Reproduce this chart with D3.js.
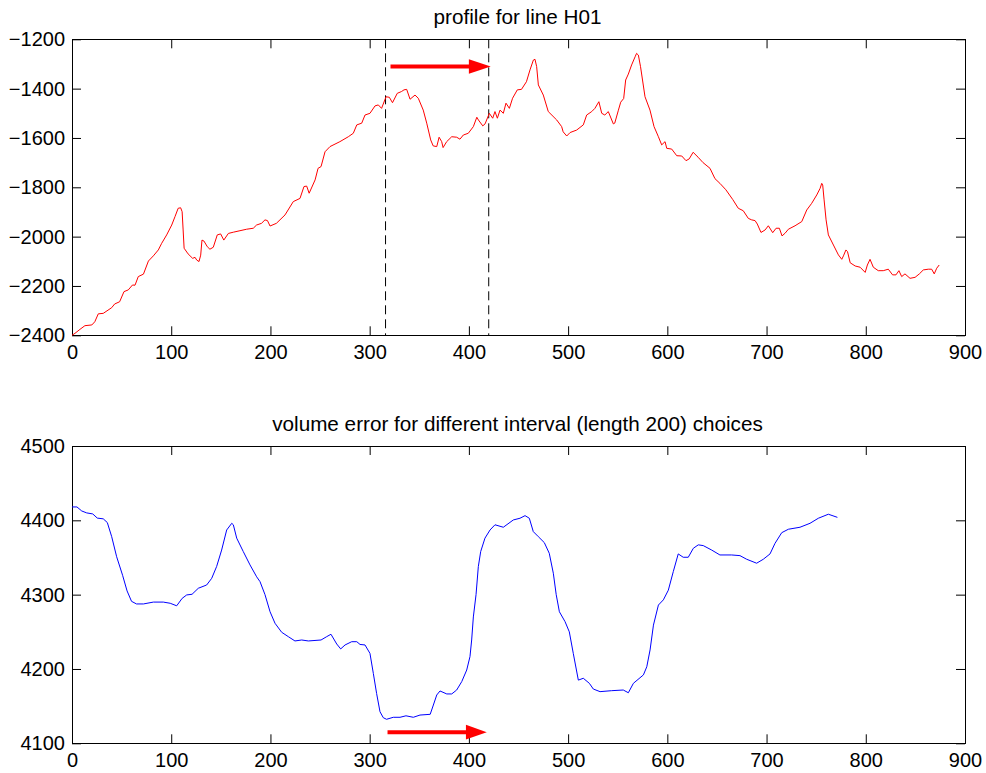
<!DOCTYPE html>
<html>
<head>
<meta charset="utf-8">
<script src="https://cdn.jsdelivr.net/npm/d3@7"></script>
<style>
  html, body { margin: 0; padding: 0; background: #fff; }
  svg { display: block; }
  text { font-family: "Liberation Sans", Arial, sans-serif; fill: #000; }
</style>
</head>
<body>
<svg id="chart" width="986" height="773"></svg>
<script>
// Profile along line H01 (distance vs. elevation)
const profileX = [0,3,8,13,20,23,26.5,31.5,40,43,48,52.4,56.7,61,63.5,66.8,72,77,82,87,90.4,95.4,100.5,103.8,107,109.5,111,112,113,117,121.6,124,125.7,128,129.7,131,133,136.4,139,142.4,146.4,149.8,153,157.6,162.6,169.3,176,182.7,186,191,194.5,197,199.6,206,214.7,223,229.8,233.8,236.5,239,245,248,251,255,260,270,278.5,283.5,287,292,295.3,300.3,305.4,308.7,312,316.5,319.8,323,327.8,332,334.6,337.3,340.7,345.7,349,354,357.5,361.5,364,367.6,370,372.6,374,377.6,382.7,387.7,391,394.4,399.4,404.5,408,409.6,414,416.3,420.6,424,426.3,428.7,431.4,434.7,437.4,440.8,444,448.8,453,458,461.6,465,466.6,468.3,470,475,480,488.5,493.5,495,498.6,502,508.6,515.3,518.7,523.8,527,531,533.9,537,540.5,545.6,547,550.5,553,556,558,560.7,564,567.5,569,570.8,573,577.5,582.5,586.6,591,594.3,597.7,599.4,604.4,609.5,614.5,618.8,622,626,631,636,643,648,653,659,666,671.5,676.5,681.6,685,688.4,690.7,694.4,698.5,701.8,706.2,709.6,712.9,715.6,718.7,722,728.7,735.5,740.5,745.5,750.6,754,755.6,756.6,758,760,762.3,767.4,772.4,775.8,777.5,780,781.6,784.3,789.3,794.3,799.4,801.6,804.3,807.6,812.6,817.6,822.7,827,830.4,833.4,836.2,839.5,844.6,849.7,854,858,863,866.4,869,871.5,874];
const profileY = [-2400,-2392,-2376,-2361,-2358,-2345,-2313,-2311,-2288,-2273,-2264,-2223,-2216,-2196,-2197,-2162,-2152,-2099,-2078,-2054,-2027,-1993,-1953,-1919,-1885,-1883,-1899,-1973,-2047,-2070,-2088,-2084,-2095,-2101,-2075,-2014,-2018,-2041,-2051,-2043,-1993,-1989,-2014,-1987,-1982,-1976,-1970,-1966,-1953,-1946,-1932,-1935,-1957,-1946,-1912,-1858,-1845,-1797,-1795,-1824,-1770,-1723,-1716,-1656,-1635,-1615,-1595,-1581,-1547,-1540,-1507,-1500,-1470,-1466,-1480,-1433,-1435,-1457,-1419,-1412,-1405,-1403,-1443,-1426,-1439,-1487,-1540,-1608,-1632,-1635,-1597,-1615,-1639,-1615,-1595,-1597,-1605,-1588,-1581,-1554,-1516,-1527,-1551,-1543,-1500,-1520,-1493,-1520,-1487,-1500,-1459,-1480,-1439,-1405,-1403,-1372,-1324,-1284,-1281,-1311,-1385,-1426,-1493,-1527,-1554,-1575,-1592,-1578,-1568,-1547,-1507,-1493,-1480,-1453,-1500,-1507,-1493,-1543,-1540,-1490,-1455,-1440,-1365,-1341,-1304,-1271,-1257,-1264,-1311,-1433,-1487,-1554,-1595,-1628,-1615,-1642,-1645,-1672,-1673,-1692,-1685,-1658,-1678,-1700,-1723,-1765,-1784,-1810,-1850,-1885,-1895,-1926,-1932,-1935,-1949,-1983,-1973,-1956,-1984,-1966,-1966,-1997,-1986,-1970,-1956,-1939,-1892,-1865,-1831,-1804,-1784,-1791,-1851,-1932,-1993,-2034,-2074,-2092,-2078,-2054,-2061,-2106,-2119,-2124,-2145,-2115,-2092,-2124,-2138,-2138,-2132,-2155,-2155,-2138,-2162,-2151,-2169,-2165,-2151,-2135,-2132,-2132,-2151,-2128,-2115];

// Volume error by interval start position
const errorX = [0,5,9.8,14.8,20.9,25.5,31.5,35.6,40,45,51,55.5,60,65,72,82,92,99,105.5,111,115.6,121,127.3,135.7,140.8,145.8,150.8,155.9,161,162.6,166,172.6,179.4,186.1,189.5,194.5,199.6,204.6,211.3,218,224.7,231.5,238.2,251,256.7,261,266.8,270.8,275.2,281.9,287,290.3,295.3,300.3,303.7,307,310.4,313.7,317,323.8,330.6,336.6,344,350.7,361,364.2,367.6,370.9,377.7,382.7,387.7,392.8,397.8,401.1,402.8,404.5,407.2,409.5,411.9,416.2,421.3,426.3,434.7,444.8,451.5,456.6,460.9,464.9,470,476,481,485.1,488,491.2,496.9,501.2,505.2,510.3,515.3,521.4,525.4,532.2,543.9,555.6,560.7,565.8,575.9,579.3,582.6,586,591,596,601,606,611,616,621.1,626.2,631.2,636.2,644.7,653,664.8,673.2,680,690,696.7,703.5,708.5,715.3,722,733.7,743.8,752.2,762.3,771.4];
const errorY = [4418,4418,4412.6,4410,4408.6,4403,4402,4397,4378,4351,4326,4305,4291,4287.5,4287.5,4290,4290,4288.4,4285,4295,4299.6,4300.5,4308.6,4313,4322,4338,4360,4387,4396,4394,4376,4358,4340,4324,4317.5,4300,4277,4261.5,4249.4,4243.5,4237.7,4239,4237.7,4239,4243.5,4246.7,4233.6,4227,4232.3,4236.7,4236.7,4233,4232.3,4221,4194,4167,4142.5,4134.5,4132.3,4135,4135,4137,4135,4138,4139,4151.5,4165,4170.4,4166.4,4166.4,4171.7,4183,4198.6,4216.6,4239,4270,4300,4337.7,4358,4376,4387,4394,4390.7,4400.5,4402.8,4406.3,4402.8,4384.8,4378,4370,4355.7,4328.8,4300,4277,4263.7,4250,4221,4185,4187.5,4180.7,4173,4169.5,4170.8,4171.7,4168,4180.7,4192,4203,4225.6,4259,4286,4293,4306,4331,4354.8,4350.3,4350.3,4362.4,4367,4366,4360,4353.4,4353.4,4352.5,4347.6,4342.3,4347.6,4354.8,4369,4383.4,4388,4390.7,4396,4402.8,4408.2,4404];

// Axis ticks
const xTicks = [0,100,200,300,400,500,600,700,800,900];
const profileTicks = [-2400,-2200,-2000,-1800,-1600,-1400,-1200];
const errorTicks = [4100,4200,4300,4400,4500];

// Interval bounds and the shift arrows
const intervalBounds = [316, 420];
const profileArrow = { x0: 321, x1: 422, headBase: 400, y: -1310 };
const errorArrow = { x0: 318, x1: 418, headBase: 397, y: 4115 };

const titles = ["profile for line H01", "volume error for different interval (length 200) choices"];

const svg = d3.select("#chart");
const left = 72, right = 965;
const FS = 20;      // tick labels
const TITLE_FS = 20.7;

function panel(cfg) {
  const x = d3.scaleLinear().domain([0, 900]).range([left, right]);
  const y = d3.scaleLinear().domain(cfg.yDomain).range([cfg.bottom, cfg.top]);
  const g = svg.append("g");

  const styleAxis = sel => {
    sel.selectAll("path.domain").remove();
    sel.selectAll(".tick line").attr("stroke", "#000").attr("stroke-width", 1);
    sel.selectAll(".tick text").attr("font-size", FS)
      .attr("font-family", '"Liberation Sans", Arial, sans-serif').attr("fill", "#000");
  };

  g.append("g").attr("transform", `translate(0,${cfg.bottom})`)
    .call(d3.axisBottom(x).tickValues(xTicks).tickFormat(d3.format("d")).tickSizeInner(-9).tickSizeOuter(0).tickPadding(10))
    .call(styleAxis);
  g.append("g").attr("transform", `translate(0,${cfg.top})`)
    .call(d3.axisTop(x).tickValues(xTicks).tickFormat("").tickSizeInner(-9).tickSizeOuter(0))
    .call(styleAxis);
  g.append("g").attr("transform", `translate(${left},0)`)
    .call(d3.axisLeft(y).tickValues(cfg.yTicks).tickFormat(d3.format("d")).tickSizeInner(-9).tickSizeOuter(0).tickPadding(7))
    .call(styleAxis);
  g.append("g").attr("transform", `translate(${right},0)`)
    .call(d3.axisRight(y).tickValues(cfg.yTicks).tickFormat("").tickSizeInner(-9).tickSizeOuter(0))
    .call(styleAxis);

  g.append("rect")
    .attr("x", left).attr("y", cfg.top)
    .attr("width", right - left).attr("height", cfg.bottom - cfg.top)
    .attr("fill", "none").attr("stroke", "#000").attr("stroke-width", 1)
    .attr("shape-rendering", "crispEdges");

  g.append("text")
    .attr("x", (left + right) / 2 - 1).attr("y", cfg.titleY)
    .attr("text-anchor", "middle").attr("font-size", TITLE_FS)
    .text(cfg.title);

  return { g, x, y };
}

// Upper panel: elevation profile
const p1 = panel({ yDomain: [-2400, -1200], top: 39.3, bottom: 335.3, yTicks: profileTicks, title: titles[0], titleY: 24 });

p1.g.selectAll("line.bound").data(intervalBounds).join("line")
  .attr("class", "bound")
  .attr("x1", d => p1.x(d)).attr("x2", d => p1.x(d))
  .attr("y1", p1.y(-1200)).attr("y2", p1.y(-2400))
  .attr("stroke", "#000").attr("stroke-width", 1)
  .attr("stroke-dasharray", "9,5");

p1.g.append("path")
  .datum(d3.zip(profileX, profileY))
  .attr("fill", "none").attr("stroke", "#ff0000").attr("stroke-width", 1)
  .attr("d", d3.line().x(d => p1.x(d[0])).y(d => p1.y(d[1])));

// Lower panel: volume error
const p2 = panel({ yDomain: [4100, 4500], top: 446, bottom: 743.3, yTicks: errorTicks, title: titles[1], titleY: 430.5 });

p2.g.append("path")
  .datum(d3.zip(errorX, errorY))
  .attr("fill", "none").attr("stroke", "#0000ff").attr("stroke-width", 1)
  .attr("d", d3.line().x(d => p2.x(d[0])).y(d => p2.y(d[1])));

function arrow(p, a) {
  const yy = p.y(a.y);
  p.g.append("line")
    .attr("x1", p.x(a.x0)).attr("x2", p.x(a.headBase) + 1)
    .attr("y1", yy).attr("y2", yy)
    .attr("stroke", "#ff0000").attr("stroke-width", 4);
  p.g.append("path")
    .attr("d", `M${p.x(a.headBase)},${yy - 7.3}L${p.x(a.x1)},${yy}L${p.x(a.headBase)},${yy + 7.3}Z`)
    .attr("fill", "#ff0000");
}
arrow(p1, profileArrow);
arrow(p2, errorArrow);
</script>
</body>
</html>
